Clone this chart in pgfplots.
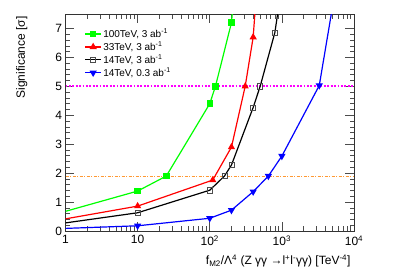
\documentclass[border=0pt]{standalone}
\usepackage{fontspec}
\setmainfont{Liberation Sans}
\usepackage{pgfplots}
\pgfplotsset{compat=1.18}
\definecolor{rgreen}{rgb}{0,1,0}
\definecolor{rorange}{rgb}{1,0.6,0.2}
\definecolor{rmag}{rgb}{1,0,1}
\begin{document}
\begin{tikzpicture}[x=1pt,y=1pt]
\path[use as bounding box] (0,0) rectangle (407,276);
\begin{axis}[
 at={(65.5pt,45pt)}, anchor=south west, scale only axis,
 width=288.5pt, height=217pt,
 xmode=log, xmin=1, xmax=10000, ymin=0, ymax=7.5,
 xtick={1,10,100,1000,10000},
 xticklabels={1,10,10\textsuperscript{2},10\textsuperscript{3},10\textsuperscript{4}},
 ytick={0,1,2,3,4,5,6,7},
 yticklabels={0,1,2,3,4,5,6,7},
 minor y tick num=4,
 xtick pos=both, ytick pos=both,
 tick align=inside,
 major tick length=9pt, minor tick length=4.5pt,
 tick style={black!70, line width=0.6pt},
 axis line style={black!80, line width=0.8pt},
 tick label style={font=\fontsize{12}{14}\selectfont},
 xticklabel style={yshift=-1pt},
 xlabel={f\textsubscript{M2}/Λ\textsuperscript{4} (Z γγ →l\textsuperscript{+}l\textsuperscript{-}γγ) [TeV\textsuperscript{-4}]},
 xlabel style={at={(axis description cs:1,0)}, anchor=base east, yshift=-34pt, font=\fontsize{12}{14}\selectfont},
 ylabel={Significance [σ]},
 ylabel style={at={(axis description cs:-0.1404,1.005)}, anchor=base east, font=\fontsize{12}{14}\selectfont},
 clip marker paths=true,
 legend style={at={(axis description cs:0.055,0.948)}, anchor=north west, draw=none, fill=none,
   font=\fontsize{10}{11.5}\selectfont, row sep=0pt, nodes={inner sep=1.5pt}},
 legend cell align=left,
 legend image code/.code={\draw[mark repeat=2,mark phase=2,#1] plot coordinates {(0pt,0pt)(8pt,0pt)(16pt,0pt)};},
]
\addlegendimage{rgreen, line width=1.2pt, mark=square*, mark size=2.5pt, mark options={solid}}
\addlegendentry{100TeV, 3 ab\textsuperscript{-1}}
\addlegendimage{red, line width=1.2pt, mark=triangle*, mark size=3pt}
\addlegendentry{33TeV, 3 ab\textsuperscript{-1}}
\addlegendimage{black, line width=1.2pt, mark=square, mark size=2.5pt, mark options={line width=0.6pt, black!70}}
\addlegendentry{14TeV, 3 ab\textsuperscript{-1}}
\addlegendimage{blue, line width=1.2pt, mark=triangle*, mark size=3pt, mark options={rotate=180}}
\addlegendentry{14TeV, 0.3 ab\textsuperscript{-1}}

\addplot[rorange, line width=1pt, dash pattern=on 3pt off 1.5pt on 1pt off 1.5pt, forget plot] coordinates {(1,1.9) (10000,1.9)};
\addplot[rmag, line width=1.8pt, dash pattern=on 1.8pt off 1.6pt, forget plot] coordinates {(1,5) (10000,5)};

\addplot[rgreen, line width=1.2pt, mark=square*, mark size=2.6pt, mark indices={2,3,4,5,6,7}, forget plot]
 coordinates {(1,0.68) (10,1.38) (25,1.9) (100,4.4) (120,5.0) (200,7.2) (300,12)};
\addplot[red, line width=1.2pt, mark=triangle*, mark size=3pt, mark indices={2,3,4,5,6,7}, forget plot]
 coordinates {(1,0.42) (10,0.86) (110,1.76) (200,2.9) (310,5.0) (400,6.7) (500,10)};
\addplot[black, line width=1.2pt, mark=square, mark size=2.6pt, mark options={line width=0.6pt, black!70}, mark indices={2,3,4,5,6,7,8,9}, forget plot]
 coordinates {(1,0.28) (10,0.63) (100,1.41) (160,1.9) (200,2.28) (400,4.27) (500,5.0) (800,6.86) (1000,8.5)};
\addplot[blue, line width=1.2pt, mark=triangle*, mark size=3pt, mark options={rotate=180}, mark indices={2,3,4,5,6,7,8,9}, forget plot]
 coordinates {(1,0.09) (10,0.18) (100,0.44) (200,0.72) (400,1.36) (650,1.9) (1000,2.59) (3300,5.03) (5000,7.7)};
\end{axis}
\end{tikzpicture}
\end{document}
